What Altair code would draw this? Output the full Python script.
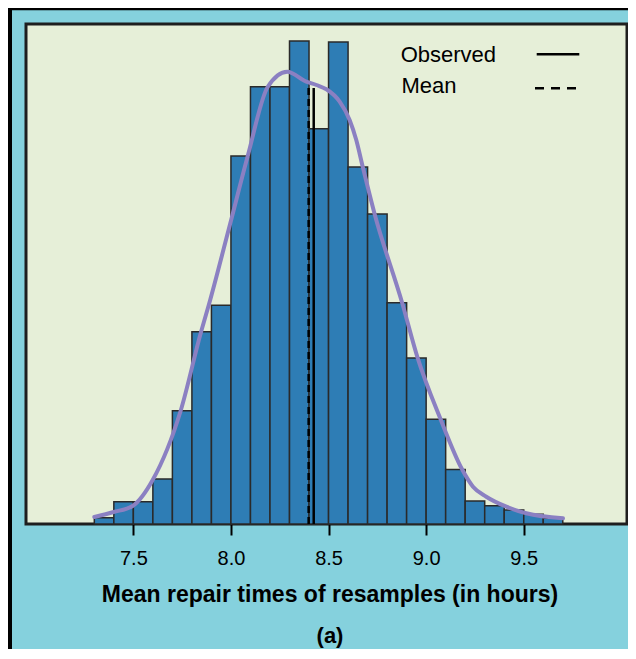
import altair as alt
import pandas as pd

# ---- data ----
bin_start = [7.3, 7.4, 7.5, 7.6, 7.7, 7.8, 7.9, 8.0, 8.1, 8.2, 8.3, 8.4,
             8.5, 8.6, 8.7, 8.8, 8.9, 9.0, 9.1, 9.2, 9.3, 9.4, 9.5, 9.6]
bin_freq = [6.3, 22.3, 22.3, 45, 113.3, 192.3, 218.7, 368, 437.3, 437.3, 483, 395.3,
            482, 357, 310, 221.3, 166, 104.7, 54.5, 23, 18.3, 14, 9.7, 5.7]
bin_width = 0.1

curve_x = [7.300, 7.399, 7.496, 7.599, 7.742, 7.847, 7.886, 7.993, 8.086, 8.188,
           8.288, 8.386, 8.438, 8.489, 8.557, 8.608, 8.642, 8.675, 8.736, 8.877,
           8.956, 9.074, 9.184, 9.240, 9.308, 9.411, 9.513, 9.701]
curve_y = [7, 12, 18, 44, 113, 192.3, 218.7, 298, 368, 437,
           452.3, 442.3, 439, 434.7, 422.3, 404, 384, 357.3, 310, 221.3,
           166.3, 104.7, 54.7, 37.3, 27.3, 17.3, 10.7, 5.7]

observed_value = 8.424
observed_top = 436
mean_value = 8.398
mean_top = 439

x_ticks = [7.5, 8.0, 8.5, 9.0, 9.5]
x_domain = [6.95, 10.029]
y_domain = [0, 500]

legend_labels = ["Observed", "Mean"]
x_title = "Mean repair times of resamples (in hours)"
panel_label = "(a)"

# ---- styling ----
FONT = "Liberation Sans"
BG = "#85D1DD"
PLOT_BG = "#E6EFD8"
BAR = "#2E7DB5"
CURVE = "#8B80C2"
INK = "#1E1E1E"

bars_df = pd.DataFrame({"bin_start": bin_start, "freq": bin_freq})
bars_df["bin_end"] = bars_df["bin_start"] + bin_width
curve_df = pd.DataFrame({"x": curve_x, "y": curve_y})
obs_df = pd.DataFrame({"x": [observed_value], "y0": [0], "y1": [observed_top]})
mean_df = pd.DataFrame({"x": [mean_value], "y0": [0], "y1": [mean_top]})
one = pd.DataFrame({"k": [0]})

xscale = alt.Scale(domain=x_domain, nice=False, zero=False)
yscale = alt.Scale(domain=y_domain, nice=False, zero=True)

xaxis = alt.Axis(values=x_ticks, format=".1f", grid=False, domain=False,
                 labelFont=FONT, labelFontSize=20, labelColor="black",
                 tickColor="black", tickWidth=2, tickSize=11, labelPadding=13.5,
                 title=x_title, titleFont=FONT, titleFontSize=23,
                 titleFontWeight="bold", titleColor="black",
                 titleX=303.5, titleY=77, titleBaseline="alphabetic",
                 titleAlign="center")

bars = alt.Chart(bars_df).mark_rect(
    color=BAR, stroke="#2A2A2A", strokeWidth=1.5
).encode(
    x=alt.X("bin_start:Q", scale=xscale, axis=xaxis),
    x2="bin_end:Q",
    y=alt.Y("freq:Q", scale=yscale, axis=None),
    y2=alt.datum(0),
)

mean_line = alt.Chart(mean_df).mark_rule(
    color="black", strokeWidth=2.5, strokeDash=[7, 4]
).encode(x="x:Q", y="y0:Q", y2="y1:Q")

obs_line = alt.Chart(obs_df).mark_rule(
    color="black", strokeWidth=2.5
).encode(x="x:Q", y="y0:Q", y2="y1:Q")

curve = alt.Chart(curve_df).mark_line(
    color=CURVE, strokeWidth=4, interpolate="monotone", strokeCap="round"
).encode(x="x:Q", y="y:Q")

# legend (labels left, line samples right)
leg_obs_text = alt.Chart(one).mark_text(
    font=FONT, fontSize=22, color="black", align="left", baseline="alphabetic"
).encode(x=alt.value(374.7), y=alt.value(37.7), text=alt.value(legend_labels[0]))
leg_mean_text = alt.Chart(one).mark_text(
    font=FONT, fontSize=22, color="black", align="left", baseline="alphabetic"
).encode(x=alt.value(375.5), y=alt.value(69.3), text=alt.value(legend_labels[1]))
leg_obs_line = alt.Chart(one).mark_rule(color="black", strokeWidth=2.5).encode(
    x=alt.value(510.7), x2=alt.value(553.3), y=alt.value(30.3))
leg_mean_line = alt.Chart(one).mark_rule(
    color="black", strokeWidth=2.5, strokeDash=[9, 7]).encode(
    x=alt.value(509), x2=alt.value(552), y=alt.value(64.3))

# panel label below axis title
panel = alt.Chart(one).mark_text(
    font=FONT, fontSize=22, fontWeight="bold", color="black",
    align="center", baseline="alphabetic"
).encode(x=alt.value(304), y=alt.value(619), text=alt.value(panel_label))

# outer frame lines (left and top) of the figure
frame_left = alt.Chart(one).mark_rule(color="black", strokeWidth=4).encode(
    x=alt.value(-16), y=alt.value(-16), y2=alt.value(630))
frame_top = alt.Chart(one).mark_rule(color="black", strokeWidth=2.5).encode(
    x=alt.value(-18), x2=alt.value(612), y=alt.value(-15))

chart = alt.layer(
    bars, mean_line, obs_line, curve,
    leg_obs_text, leg_mean_text, leg_obs_line, leg_mean_line,
    panel, frame_left, frame_top
).properties(
    width=601, height=500,
    background=BG,
    padding={"left": 18, "top": 16, "right": 1, "bottom": 125},
    autosize=alt.AutoSizeParams(type="none"),
).configure_view(
    fill=PLOT_BG, stroke=INK, strokeWidth=3
)

chart.save("out.html", embed_options={"renderer": "svg", "actions": False})
